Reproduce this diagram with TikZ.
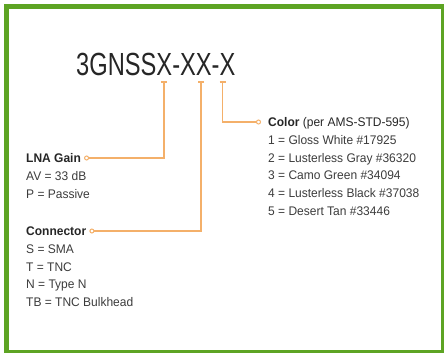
\documentclass[tikz,border=0pt]{standalone}
\usepackage{fontspec}
\setmainfont{Liberation Sans}[FakeStretch=0.96]
\newfontfamily\codefont{Liberation Sans}[FakeStretch=0.74]
\usetikzlibrary{arrows.meta,positioning}
\definecolor{framegreen}{HTML}{5DA423}
\definecolor{leadorange}{HTML}{F4B06A}
\definecolor{inkgray}{HTML}{262626}

\begin{document}
\begin{tikzpicture}[
  x=1pt, y=-1pt,
  head/.style={inner sep=0pt, anchor=base west, text=inkgray, text height=9pt, text depth=0pt, font=\fontsize{12.5}{17.6}\selectfont},
  optlist/.style={inner sep=0pt, align=left, text=inkgray!90, font=\fontsize{12.5}{17.6}\selectfont},
  lead/.style={draw=leadorange, line width=1.5pt, {Bar[width=6pt]}-{Circle[fill=white, length=5pt, line width=1pt]}}
]
\useasboundingbox (0,0) rectangle (444,353);
\clip (0,0) rectangle (444,353);
\draw[framegreen, line width=4.5pt] (6.5,6.5) rectangle (443.5,352.5);

% part number
\node[inner sep=0pt, anchor=base west, text=inkgray, font=\codefont\fontsize{32}{32}\selectfont] (code) at (76,75) {3GNSSX-XX-X};
\coordinate (gaintick) at (164,81);
\coordinate (conntick) at (201,81);
\coordinate (colortick) at (222.5,81);

% field descriptions
\node[head] (color) at (268,126.5) {\textbf{Color} (per AMS-STD-595)};
\node[optlist, below right=8.8pt and 0pt of color.south west] (colorlist)
  {1 = Gloss White \#17925\\2 = Lusterless Gray \#36320\\3 = Camo Green \#34094\\4 = Lusterless Black \#37038\\5 = Desert Tan \#33446};
\node[head] (gain) at (26,162.5) {\textbf{LNA Gain}};
\node[optlist, below right=8.8pt and 0pt of gain.south west] (gainlist)
  {AV = 33 dB\\P = Passive};
\node[head] (conn) at (26,235.5) {\textbf{Connector}};
\node[optlist, below right=8.8pt and 0pt of conn.south west] (connlist)
  {S = SMA\\T = TNC\\N = Type N\\TB = TNC Bulkhead};

\draw[lead] (gaintick) |- ([xshift=3pt]gain.east);
\draw[lead] (conntick) |- ([xshift=3pt]conn.east);
\draw[lead] (colortick) |- ([xshift=-7pt]color.west);
\end{tikzpicture}
\end{document}
